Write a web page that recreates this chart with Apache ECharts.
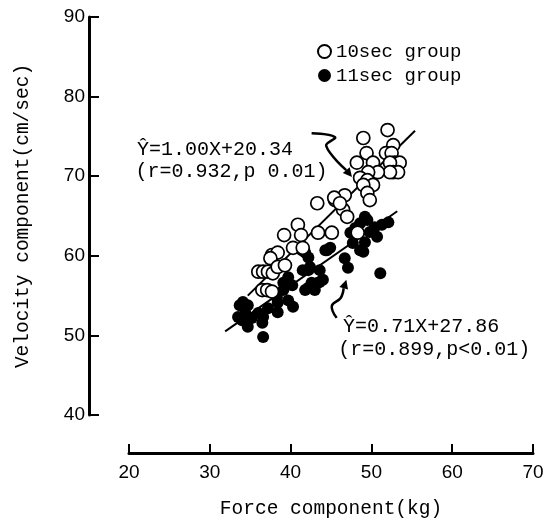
<!DOCTYPE html>
<html>
<head>
<meta charset="utf-8">
<script src="https://cdn.jsdelivr.net/npm/echarts@6/dist/echarts.min.js"></script>
<style>
  html, body { margin: 0; padding: 0; background: #fff; }
  #chart { width: 553px; height: 524px; }
</style>
</head>
<body>
<div id="chart"></div>
<script>
// 10sec group (open circles), [force kg, velocity cm/sec]
const group10 = [
  [52.0, 75.8], [49.0, 74.8], [52.7, 73.9], [51.8, 72.9], [52.5, 72.9], [49.4, 72.9],
  [52.9, 71.7], [53.5, 71.7], [52.3, 71.7], [52.7, 70.5], [53.3, 70.5], [52.3, 70.5],
  [48.2, 71.7], [50.2, 71.7], [50.8, 70.5], [49.6, 70.5], [48.6, 69.8], [49.5, 69.5],
  [50.2, 68.9], [49.0, 68.9], [49.5, 67.9], [49.8, 67.0], [46.7, 67.6], [45.5, 67.0],
  [46.5, 65.8], [47.0, 64.9], [43.3, 66.6], [45.4, 67.3], [46.1, 66.6], [40.9, 63.9],
  [39.2, 62.6], [41.3, 62.6], [43.4, 62.9], [45.1, 62.9], [40.3, 61.0], [37.7, 60.1],
  [41.5, 61.0], [38.4, 60.4], [37.5, 59.7], [36.0, 58.0], [36.6, 58.0], [37.2, 58.0],
  [37.8, 57.8], [38.4, 58.6], [36.5, 55.7], [37.1, 55.7], [37.7, 55.5], [39.3, 58.8],
  [48.3, 62.9]
]

// 11sec group (filled circles)
const group11 = [
  [41.4, 60.7], [41.8, 60.4], [42.2, 58.2], [41.8, 55.7], [40.2, 56.3], [39.1, 55.7],
  [38.3, 54.8], [39.7, 54.4], [40.3, 53.6], [38.4, 52.9], [37.2, 53.4], [36.6, 52.3],
  [36.0, 52.8], [35.2, 52.2], [34.4, 52.8], [33.7, 53.8], [34.1, 54.2], [34.7, 53.8],
  [34.0, 51.9], [33.5, 52.3], [34.7, 51.1], [36.5, 51.6], [36.6, 49.8], [38.4, 54.1],
  [43.0, 55.7], [42.2, 56.0], [43.4, 56.6], [49.2, 64.9], [48.6, 64.1], [48.0, 63.5],
  [47.4, 62.9], [51.3, 63.9], [52.1, 64.2], [50.4, 63.6], [49.8, 63.0], [47.7, 61.6],
  [49.0, 60.5], [46.7, 59.7], [47.1, 58.5], [51.1, 57.8], [44.3, 60.7], [44.9, 61.0],
  [42.6, 56.6], [43.6, 56.7], [44.0, 57.0], [42.2, 59.8], [44.5, 60.7], [43.6, 58.2],
  [42.4, 58.6], [41.5, 58.2], [48.6, 60.7], [49.5, 64.5], [49.2, 61.7], [50.7, 62.4],
  [39.1, 56.6], [39.7, 57.3]
]

// regression line end points as drawn
const fit10 = [[34.7, 55.0], [55.4, 75.7]]
const fit11 = [[31.9, 50.5], [53.2, 65.6]]

// hand drawn arrows (data coords)
const arrow10 = [[42.6, 75.4], [45.5, 74.9], [44.4, 73.8], [47.6, 69.9]]
const arrow11 = [[45.7, 52.2], [45.1, 53.7], [46.2, 54.7], [46.9, 57.0]]

const xTicks = [20, 30, 40, 50, 60, 70]
const yTicks = [40, 50, 60, 70, 80, 90]

const monoFont = "Liberation Mono"
const sansFont = "Liberation Sans"

let myChart = echarts.init(document.getElementById("chart"))

let option = {
    animation: false,
    backgroundColor: "#fff",
    grid: {
        left: 129,
        right: 20,
        top: 17,
        bottom: 109
    },
    legend: {
        orient: "vertical",
        left: 312,
        top: 37,
        itemGap: 5,
        itemWidth: 13,
        itemHeight: 13,
        textStyle: { fontFamily: monoFont, fontSize: 19, color: "#000" },
        data: ["10sec group", "11sec group"]
    },
    xAxis: {
        type: "value",
        min: xTicks[0],
        max: xTicks[xTicks.length - 1],
        interval: 10,
        offset: 38,
        name: "Force component(kg)",
        nameLocation: "middle",
        nameGap: 46,
        nameTextStyle: { fontFamily: monoFont, fontSize: 19.5, color: "#000" },
        axisLine: { lineStyle: { color: "#000", width: 3 } },
        axisTick: { inside: true, length: 9, lineStyle: { color: "#000", width: 2 } },
        axisLabel: { fontFamily: sansFont, fontSize: 19, color: "#000", margin: 10 },
        splitLine: { show: false }
    },
    yAxis: {
        type: "value",
        min: yTicks[0],
        max: yTicks[yTicks.length - 1],
        interval: 10,
        offset: 40,
        name: "Velocity component(cm/sec)",
        nameLocation: "middle",
        nameGap: 56,
        nameTextStyle: { fontFamily: monoFont, fontSize: 19.5, color: "#000" },
        axisLine: { lineStyle: { color: "#000", width: 3 } },
        axisTick: { inside: true, length: 10, lineStyle: { color: "#000", width: 2 } },
        axisLabel: { fontFamily: sansFont, fontSize: 19, color: "#000", margin: 4 },
        splitLine: { show: false }
    },
    series: [
        {
            name: "fit10",
            type: "line",
            data: fit10,
            symbol: "none",
            lineStyle: { color: "#000", width: 2 },
            z: 1
        },
        {
            name: "fit11",
            type: "line",
            data: fit11,
            symbol: "none",
            lineStyle: { color: "#000", width: 2 },
            z: 1
        },
        {
            name: "11sec group",
            type: "scatter",
            data: group11,
            symbol: "circle",
            symbolSize: 12,
            itemStyle: { color: "#000", opacity: 1 },
            z: 2
        },
        {
            name: "10sec group",
            type: "scatter",
            data: group10,
            symbol: "circle",
            symbolSize: 13,
            itemStyle: { color: "#fff", borderColor: "#000", borderWidth: 1.7, opacity: 1 },
            z: 3
        }
    ]
}
myChart.setOption(option)

// annotations + arrows
function arrowGraphics(pts){
    let px = pts.map(p => myChart.convertToPixel({ gridIndex: 0 }, p))
    let a = px[px.length - 2], b = px[px.length - 1]
    let ang = Math.atan2(b[1] - a[1], b[0] - a[0])
    let len = 9, wid = 4.5
    let base = [b[0] - len * Math.cos(ang), b[1] - len * Math.sin(ang)]
    let head = [
        b,
        [base[0] + wid * Math.sin(ang), base[1] - wid * Math.cos(ang)],
        [base[0] - wid * Math.sin(ang), base[1] + wid * Math.cos(ang)]
    ]
    return [
        { type: "polyline", shape: { points: px.slice(0, -1).concat([base]), smooth: 0.4 },
          style: { stroke: "#000", lineWidth: 2.5, fill: null } },
        { type: "polygon", shape: { points: head }, style: { fill: "#000" } }
    ]
}

function txt(x, y, s){
    let p = myChart.convertToPixel({ gridIndex: 0 }, [x, y])
    return { type: "text", x: p[0], y: p[1],
             style: { text: s, fontFamily: monoFont, fontSize: 20, fill: "#000", verticalAlign: "middle" } }
}

myChart.setOption({
    graphic: [
        txt(21.0, 73.3, "Ŷ=1.00X+20.34"),
        txt(20.8, 70.6, "(r=0.932,p 0.01)"),
        txt(46.5, 51.1, "Ŷ=0.71X+27.86"),
        txt(45.9, 48.2, "(r=0.899,p<0.01)")
    ].concat(arrowGraphics(arrow10), arrowGraphics(arrow11))
})
</script>
</body>
</html>
